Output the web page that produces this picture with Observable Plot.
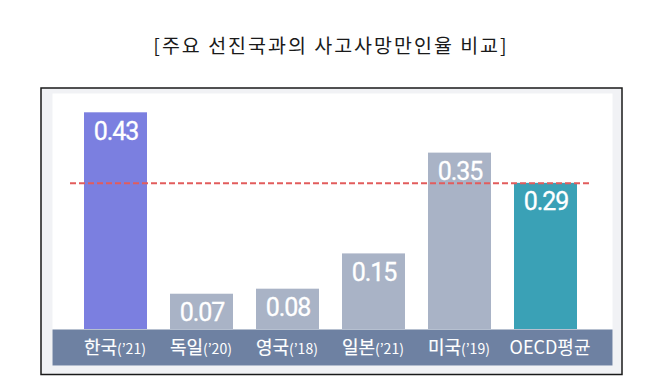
<!DOCTYPE html>
<html><head><meta charset="utf-8">
<script src="https://cdn.jsdelivr.net/npm/d3@7"></script>
<script src="https://cdn.jsdelivr.net/npm/@observablehq/plot@0.6"></script>
<style>
body{margin:0;background:#fff;font-family:"Noto Sans CJK KR",sans-serif;}
#title{box-sizing:border-box;height:80px;padding-top:32px;line-height:26px;font-size:19.5px;letter-spacing:2px;text-align:center;color:#1a1a1a;}
#chart svg{display:block;font-family:"Noto Sans CJK KR",sans-serif;}
</style></head><body>
<div id="title">[주요 선진국과의 사고사망만인율 비교]</div>
<div id="chart"></div>
<script>
const names = ["한국","독일","영국","일본","미국","OECD평균"];
const years = ["(’21)","(’20)","(’18)","(’21)","(’19)",""];
const values = [0.43,0.07,0.08,0.15,0.35,0.29];
const barColors = ["#7b7fe0","#a9b3c6","#a9b3c6","#a9b3c6","#a9b3c6","#3aa1b6"];
const oecdAverage = 0.29;

const data = names.map((n,i)=>({name:n, year:years[i], value:values[i], color:barColors[i]}));

const chart = Plot.plot({
  width:662, height:300,
  marginLeft:52, marginRight:50, marginTop:13, marginBottom:15,
  x:{type:"band", domain:names, range:[70.15,590.35], paddingInner:0.27, paddingOuter:0.135, axis:null},
  y:{domain:[0,0.43], range:[249,32.3], axis:null},
  color:{type:"identity"},
  marks:[
    Plot.frame({fill:"#f1f2f5", stroke:"#1a1a1a", strokeWidth:1.5, insetLeft:-11.5, insetRight:-9.5, insetTop:-5.5, insetBottom:-9}),
    Plot.frame({fill:"#ffffff", stroke:null, strokeOpacity:0}),
    Plot.frame({fill:"#6e81a2", stroke:null, strokeOpacity:0, insetTop:236}),
    Plot.barY(data,{x:"name", y:"value", fill:"color"}),
    Plot.ruleY([oecdAverage],{stroke:"#e25c5c", strokeWidth:2, strokeDasharray:"6,3", insetLeft:18, insetRight:20}),
    Plot.text(data,{x:"name", y:"value", text:d=>d.value.toFixed(2), fill:"white", stroke:"white", strokeWidth:0.3, fontSize:25, fontWeight:400, fontFamily:"Roboto", lineAnchor:"top", dy:9}),
    Plot.text(data.filter(d=>d.year),{x:"name", text:"name", frameAnchor:"bottom", dy:-17, dx:1, textAnchor:"end", lineAnchor:"middle", fill:"white", stroke:"white", strokeWidth:0.2, fontSize:18, fontWeight:400}),
    Plot.text(data.filter(d=>d.year),{x:"name", text:"year", frameAnchor:"bottom", dy:-16, dx:1, textAnchor:"start", lineAnchor:"middle", fill:"white", fontSize:14, fontWeight:400}),
    Plot.text(data.filter(d=>!d.year),{x:"name", text:"name", frameAnchor:"bottom", dy:-17, dx:4, textAnchor:"middle", lineAnchor:"middle", fill:"white", fontSize:18, fontWeight:400})
  ]
});
chart.querySelectorAll('g[font-size="25"]').forEach(g=>g.setAttribute("letter-spacing","-1"));
document.getElementById("chart").appendChild(chart);
</script>
</body></html>
